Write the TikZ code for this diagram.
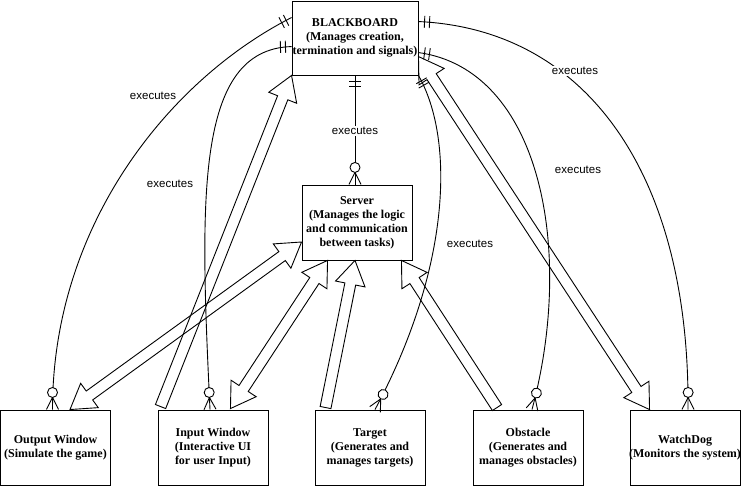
\documentclass[tikz,border=0pt]{standalone}
\usepackage{fontspec}
\setmainfont{Liberation Serif}
\newfontfamily\lblfont{Liberation Sans}
\usetikzlibrary{calc,decorations.markings}
\tikzset{
  box/.style={draw, line width=0.9pt, align=center, inner sep=0pt,
    font=\bfseries\fontsize{12}{14}\selectfont},
  lbl/.style={font=\lblfont\fontsize{11.5}{13}\selectfont, fill=white, inner sep=1pt},
  blk/.style={draw, line width=0.9pt, line join=miter},
  er/.style={draw, line width=0.9pt, postaction={decorate},
    decoration={markings,
      mark=at position 0.1pt with {\draw (6pt,-6pt)--(6pt,6pt); \draw (11pt,-6pt)--(11pt,6pt);},
      mark=at position -0.1pt with {\draw (-12pt,0)--(0,-6pt); \draw (-12pt,0)--(0,6pt);
        \draw[fill=white] (-17pt,0) circle (5pt);}}}
}
\newcommand\blkone[2]{%
  \path ($(#2)!24pt!(#1)$) coordinate (hh);
  \draw[blk] ($(#1)!5.5pt!90:(#2)$) -- ($(hh)!5.5pt!90:(#2)$) -- ($(hh)!15pt!90:(#2)$) -- (#2)
    -- ($(hh)!15pt!-90:(#2)$) -- ($(hh)!5.5pt!-90:(#2)$) -- ($(#1)!5.5pt!-90:(#2)$) -- cycle;}
\newcommand\blktwo[2]{%
  \path ($(#2)!24pt!(#1)$) coordinate (hh) ($(#1)!24pt!(#2)$) coordinate (hk);
  \draw[blk] (#1) -- ($(hk)!15pt!90:(#2)$) -- ($(hk)!5.5pt!90:(#2)$) -- ($(hh)!5.5pt!90:(#2)$)
    -- ($(hh)!15pt!90:(#2)$) -- (#2) -- ($(hh)!15pt!-90:(#2)$) -- ($(hh)!5.5pt!-90:(#2)$)
    -- ($(hk)!5.5pt!-90:(#2)$) -- ($(hk)!15pt!-90:(#2)$) -- cycle;}
\begin{document}
\begin{tikzpicture}[x=1pt,y=-1pt]
\useasboundingbox (0,0) rectangle (742,486);
% nodes
\node[box, minimum width=126pt, minimum height=74pt] (bb) at (355,38)
  {BLACKBOARD\\(Manages creation,\\termination and signals)};
\node[box, minimum width=110pt, minimum height=75pt] (srv) at (357,222.5)
  {Server\\(Manages the logic\\and communication\\between tasks)};
\node[box, minimum width=110pt, minimum height=75pt] (out) at (55.5,447.5)
  {Output Window\\(Simulate the game)};
\node[box, minimum width=110pt, minimum height=75pt] (inp) at (213,447.5)
  {Input Window\\(Interactive UI\\for user Input)};
\node[box, minimum width=110pt, minimum height=75pt] (tgt) at (370,447.5)
  {Target\\(Generates and\\manages targets)};
\node[box, minimum width=110pt, minimum height=75pt] (obs) at (528,447.5)
  {Obstacle\\(Generates and\\manages obstacles)};
\node[box, minimum width=110pt, minimum height=75pt] (wd) at (685,447.5)
  {WatchDog\\\makebox[0pt]{(Monitors the system)}};
% executes connectors
\draw[er] ($(bb.north west)+(0,17)$) .. controls +(-122,62) and +(0,-185) .. ($(out.north)+(-3,0)$);
\draw[er] ($(bb.north west)+(0,46)$) .. controls +(-97,3) and +(-10,-210) .. ($(inp.north)+(-3,0)$);
\draw[er] (bb.south) -- (bb.south |- srv.north);
\draw[er] (bb.south east) .. controls +(37,65) and +(75,-140) .. ($(tgt.north)+(5,0)$);
\draw[er] ($(bb.north east)+(0,52)$) .. controls +(122,17) and +(43,-160) .. ($(obs.north)+(4,0)$);
\draw[er] ($(bb.north east)+(0,21)$) .. controls +(172,8) and +(2,-230) .. ($(wd.north)+(3,0)$);
% labels
\node[lbl] (l1) at (153,96) {executes};
\node[lbl] (l2) at (170,184) {executes};
\node[lbl] (l3) at (355,131) {executes};
\node[lbl] (l4) at (470,244) {executes};
\node[lbl] (l5) at (578,170) {executes};
\node[lbl] (l6) at (575,71) {executes};
% block arrow end points
\coordinate (a1s) at ($(inp.north west)+(3,-3)$);
\coordinate (a2s) at ($(bb.north east)+(0,56)$);
\coordinate (a2e) at ($(wd.north west)+(20,0)$);
\coordinate (a3s) at ($(srv.west)+(0,19.5)$);
\coordinate (a3e) at ($(out.north)+(14.5,0)$);
\coordinate (a4s) at ($(srv.south west)+(26,0)$);
\coordinate (a4e) at ($(inp.north east)+(-38,-1)$);
\coordinate (a5s) at ($(tgt.north west)+(11,-2)$);
\coordinate (a5e) at ($(srv.south)+(-2,0)$);
\coordinate (a6s) at ($(obs.north)+(-31,-2)$);
\coordinate (a6e) at ($(srv.south east)+(-11,0)$);
\blkone{a1s}{bb.south west}
\blktwo{a2s}{a2e}
\blktwo{a3s}{a3e}
\blktwo{a4s}{a4e}
\blkone{a5s}{a5e}
\blkone{a6s}{a6e}
\end{tikzpicture}
\end{document}
